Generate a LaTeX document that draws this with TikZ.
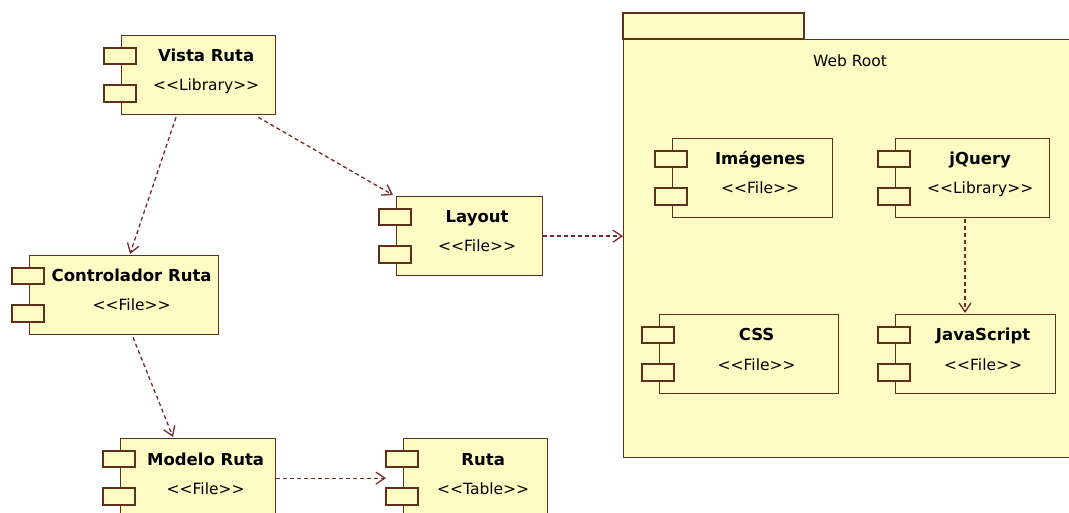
\documentclass[tikz,border=0pt]{standalone}
\usepackage{fontspec}
\newfontfamily\umlfont{DejaVu Sans}
\usetikzlibrary{arrows.meta,calc}
\definecolor{umlfill}{RGB}{255,251,196}
\definecolor{umlline}{RGB}{96,48,28}
\definecolor{deparrow}{RGB}{120,40,40}
\begin{document}
\begin{tikzpicture}[x=1pt,y=-1pt,
		comp/.style={draw=umlline,fill=umlfill,line width=1.3pt,minimum height=79pt,inner sep=0pt,anchor=north west},
		tab/.style={draw=umlline,fill=umlfill,line width=1.3pt},
		ttl/.style={font=\umlfont\bfseries\fontsize{16.5}{19}\selectfont,anchor=base},
		stereo/.style={font=\umlfont\fontsize{15.5}{18}\selectfont,anchor=base},
		dep/.style={draw=deparrow,line width=1.3pt,dash pattern=on 4pt off 3pt,-{Straight Barb[length=9pt,width=12pt]}}]
		\useasboundingbox (0,0) rectangle (1069,513);
		\clip (0,0) rectangle (1069,513);
		\fill[white] (0,0) rectangle (1069,513);
		% package
		\draw[tab] (623,13) rectangle (804,39);
		\node[comp,minimum width=460pt,minimum height=418pt] (webroot) at (623,39) {};
		\node[stereo] (webrootlbl) at (850,67) {Web Root};
		% components
		\node[comp,minimum width=154pt] (vista) at (121,35) {};
		\node[comp,minimum width=189pt] (ctrl) at (29,255) {};
		\node[comp,minimum width=146pt] (layout) at (396,196) {};
		\node[comp,minimum width=155pt] (modelo) at (120,438) {};
		\node[comp,minimum width=144pt] (ruta) at (403,438) {};
		\node[comp,minimum width=160pt] (imagenes) at (672,138) {};
		\node[comp,minimum width=154pt] (jquery) at (895,138) {};
		\node[comp,minimum width=179pt] (css) at (659,314) {};
		\node[comp,minimum width=160pt] (jscript) at (895,314) {};
		\foreach \n in {vista,ctrl,layout,modelo,ruta,imagenes,jquery,css,jscript} {
			\draw[tab] ($(\n.north west)+(-17,13)$) rectangle ++(32,16);
			\draw[tab] ($(\n.north west)+(-17,50)$) rectangle ++(32,17);
		}
		\node[ttl] (vistat) at ($(vista.north)+(7.5,27)$) {Vista Ruta};
		\node[stereo] (vistas) at ($(vista.north)+(7.5,56)$) {<<Library>>};
		\node[ttl] (ctrlt) at ($(ctrl.north)+(7.5,27)$) {Controlador Ruta};
		\node[stereo] (ctrls) at ($(ctrl.north)+(7.5,56)$) {<<File>>};
		\node[ttl] (layoutt) at ($(layout.north)+(7.5,27)$) {Layout};
		\node[stereo] (layouts) at ($(layout.north)+(7.5,56)$) {<<File>>};
		\node[ttl] (modelot) at ($(modelo.north)+(7.5,27)$) {Modelo Ruta};
		\node[stereo] (modelos) at ($(modelo.north)+(7.5,56)$) {<<File>>};
		\node[ttl] (rutat) at ($(ruta.north)+(7.5,27)$) {Ruta};
		\node[stereo] (rutas) at ($(ruta.north)+(7.5,56)$) {<<Table>>};
		\node[ttl] (imagenest) at ($(imagenes.north)+(7.5,27)$) {Imágenes};
		\node[stereo] (imageness) at ($(imagenes.north)+(7.5,56)$) {<<File>>};
		\node[ttl] (jqueryt) at ($(jquery.north)+(7.5,27)$) {jQuery};
		\node[stereo] (jquerys) at ($(jquery.north)+(7.5,56)$) {<<Library>>};
		\node[ttl] (csst) at ($(css.north)+(7.5,27)$) {CSS};
		\node[stereo] (csss) at ($(css.north)+(7.5,56)$) {<<File>>};
		\node[ttl] (jscriptt) at ($(jscript.north)+(7.5,27)$) {JavaScript};
		\node[stereo] (jscripts) at ($(jscript.north)+(7.5,56)$) {<<File>>};
		% dependencies
		\draw[dep] ($(vista.south west)+(55,2)$) -- ($(ctrl.north west)+(101,-1)$);
		\draw[dep] ($(vista.south east)+(-18,2)$) -- ($(layout.north west)+(-3,-1)$);
		\draw[dep] (layout.east) -- (layout.east -| webroot.west);
		\draw[dep] ($(ctrl.south west)+(104,2)$) -- ($(modelo.north west)+(53,-1)$);
		\draw[dep] (modelo.east) -- ($(modelo.east -| ruta.west)+(-17,0)$);
		\draw[dep] ($(jquery.south west)+(70,1)$) -- ($(jscript.north west)+(70,-1)$);
\end{tikzpicture}
\end{document}
